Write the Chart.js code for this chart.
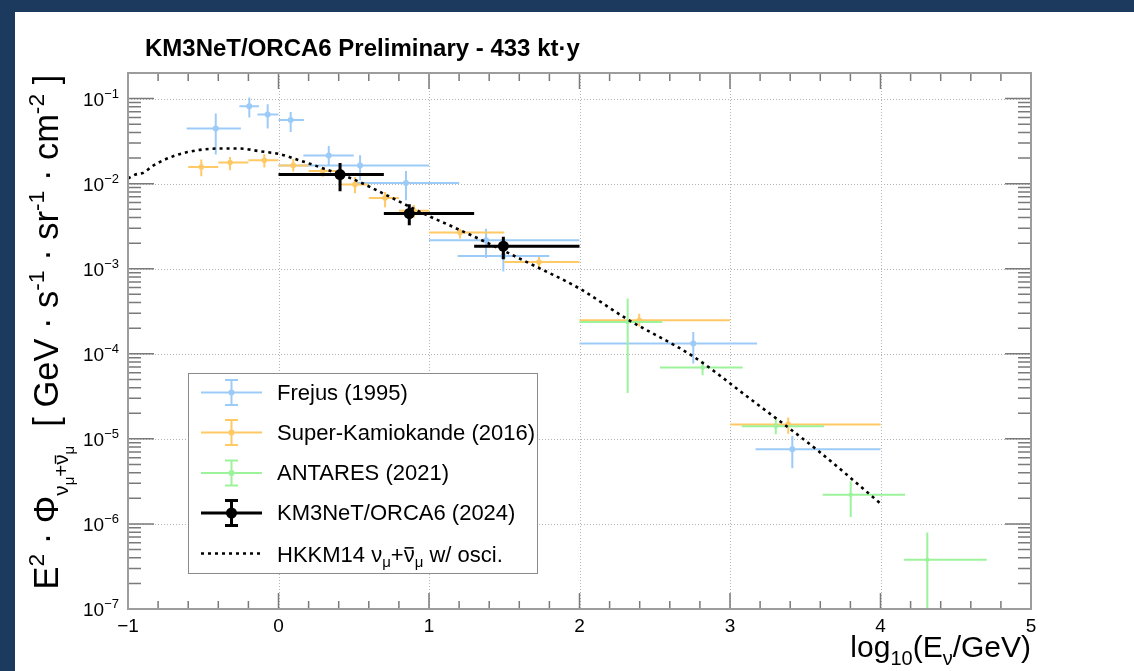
<!DOCTYPE html>
<html><head><meta charset="utf-8">
<script src="https://cdn.jsdelivr.net/npm/chart.js@4/dist/chart.umd.min.js"></script>
<style>
html,body{margin:0;padding:0;background:#1b3a5e;overflow:hidden;width:1134px;height:671px}
#panel{position:absolute;left:15px;top:12px;width:1119px;height:659px;background:#fff}
#wrap{position:absolute;left:0;top:0;width:1134px;height:671px}
</style></head><body>
<div id="panel"></div>
<div id="wrap"><canvas id="c" width="1134" height="671"></canvas></div>
<script>
// ---------- data ----------
const frejusX   = [-0.417, -0.194, -0.072, 0.081, 0.334, 0.542, 0.847, 1.379, 1.494, 2.756, 3.414];
const frejusXlo = [-0.61, -0.26, -0.14, 0.0, 0.165, 0.0, 0.5, 1.0, 1.19, 2.0, 3.17];
const frejusXhi = [-0.25, -0.13, 0.0, 0.17, 0.5, 1.0, 1.2, 2.0, 1.8, 3.18, 4.0];
const frejusY   = [0.0444, 0.0812, 0.0649, 0.0561, 0.0214, 0.0164, 0.0102, 0.00216, 0.00141, 1.32e-4, 7.57e-6];
const frejusYlo = [0.0221, 0.0598, 0.0444, 0.0405, 0.0164, 0.011, 0.0064, 0.00134, 0.00093, 7.7e-5, 4.5e-6];
const frejusYhi = [0.0667, 0.103, 0.0857, 0.0696, 0.0277, 0.0216, 0.0141, 0.00296, 0.00207, 1.81e-4, 1.08e-5];

const skX   = [-0.513, -0.322, -0.094, 0.098, 0.294, 0.508, 0.708, 0.9, 1.206, 1.731, 2.397, 3.387];
const skXlo = [-0.6, -0.4, -0.2, 0.0, 0.2, 0.42, 0.6, 0.8, 1.0, 1.5, 2.0, 3.0];
const skXhi = [-0.4, -0.2, 0.0, 0.2, 0.4, 0.6, 0.8, 1.0, 1.5, 2.0, 3.0, 4.0];
const skY   = [0.0157, 0.0177, 0.0188, 0.0164, 0.0141, 0.0098, 0.0068, 0.0048, 0.00266, 0.0012, 2.48e-4, 1.48e-5];
const skYlo = [0.0122, 0.0144, 0.0155, 0.0139, 0.0121, 0.0077, 0.0053, 0.0040, 0.00226, 0.00103, 2.09e-4, 1.15e-5];
const skYhi = [0.0192, 0.0206, 0.0222, 0.0195, 0.0155, 0.0120, 0.0080, 0.0056, 0.00296, 0.00137, 2.96e-4, 1.78e-5];

const antX   = [2.32, 2.818, 3.304, 3.802, 4.311];
const antXlo = [2.0, 2.535, 3.078, 3.616, 4.156];
const antXhi = [2.55, 3.084, 3.625, 4.163, 4.706];
const antY   = [2.37e-4, 6.9e-5, 1.41e-5, 2.2e-6, 3.79e-7];
const antYlo = [3.47e-5, 5.6e-5, 1.13e-5, 1.21e-6, 5e-8];
const antYhi = [4.47e-4, 8.3e-5, 1.73e-5, 3.18e-6, 7.94e-7];

const kmX   = [0.409, 0.869, 1.494];
const kmXlo = [0.0, 0.7, 1.3];
const kmXhi = [0.7, 1.3, 2.0];
const kmY   = [0.0128, 0.00446, 0.00184];
const kmYlo = [0.00815, 0.00324, 0.00129];
const kmYhi = [0.0175, 0.00573, 0.00237];

const hkkmX = [-1.0, -0.95, -0.9, -0.83, -0.7, -0.54, -0.39, -0.26, -0.12, 0.01, 0.14, 0.28, 0.5, 0.72, 0.94, 1.16, 1.34, 1.67, 2.0, 2.31, 2.76, 3.13, 3.58, 4.0];
const hkkmY = [0.0115, 0.0128, 0.0134, 0.0164, 0.021, 0.0247, 0.0259, 0.0259, 0.024, 0.0222, 0.0188, 0.0155, 0.0112, 0.0073, 0.00466, 0.0031, 0.00221, 0.00115, 5.85e-4, 2.6e-4, 9.2e-5, 2.99e-5, 7.37e-6, 1.74e-6];

const xTickValues = [-1, 0, 1, 2, 3, 4, 5];
const xTickLabels = ['\u22121', '0', '1', '2', '3', '4', '5'];
const yTickExponents = [-7, -6, -5, -4, -3, -2, -1];

const legendLabels = ['Frejus (1995)', 'Super-Kamiokande (2016)', 'ANTARES (2021)', 'KM3NeT/ORCA6 (2024)'];
const titleText = 'KM3NeT/ORCA6 Preliminary - 433 kt\u00B7y';

// ---------- styles ----------
const FONT = '"Liberation Sans", Arial, Helvetica, sans-serif';
const C_FREJUS = '#9dcbf8', C_SK = '#ffc966', C_ANT = '#9cf39c', C_KM = '#000000';

function pts(xs, ys){ return xs.map((v,i)=>({x:v, y:ys[i]})); }

const datasets = [
  {label:legendLabels[3], data:pts(kmX,kmY), borderColor:C_KM, backgroundColor:C_KM, pointRadius:5.5, pointBorderWidth:0,
   err:{x:kmX,xlo:kmXlo,xhi:kmXhi,y:kmY,ylo:kmYlo,yhi:kmYhi}, errWidth:3},
  {label:'HKKM14', type:'line', showLine:true, data:pts(hkkmX,hkkmY), borderColor:'#000', borderWidth:2.6,
   borderDash:[3,4], pointRadius:0, cubicInterpolationMode:'monotone', fill:false},
  {label:legendLabels[2], data:pts(antX,antY), borderColor:C_ANT, backgroundColor:C_ANT, pointRadius:2.2, pointBorderWidth:0,
   err:{x:antX,xlo:antXlo,xhi:antXhi,y:antY,ylo:antYlo,yhi:antYhi}, errWidth:2},
  {label:legendLabels[1], data:pts(skX,skY), borderColor:C_SK, backgroundColor:C_SK, pointRadius:2.8, pointBorderWidth:0,
   err:{x:skX,xlo:skXlo,xhi:skXhi,y:skY,ylo:skYlo,yhi:skYhi}, errWidth:2},
  {label:legendLabels[0], data:pts(frejusX,frejusY), borderColor:C_FREJUS, backgroundColor:C_FREJUS, pointRadius:3, pointBorderWidth:0,
   err:{x:frejusX,xlo:frejusXlo,xhi:frejusXhi,y:frejusY,ylo:frejusYlo,yhi:frejusYhi}, errWidth:2}
];

function clipArea(ctx, a){ ctx.beginPath(); ctx.rect(a.left, a.top, a.right-a.left, a.bottom-a.top); ctx.clip(); }

const errPlugin = {
  id:'errbars',
  beforeDatasetDraw(chart, args){
    const ds = chart.data.datasets[args.index];
    if(!ds.err) return;
    const {ctx, chartArea:a} = chart; const xs = chart.scales.x, ys = chart.scales.y;
    const e = ds.err;
    ctx.save(); clipArea(ctx, a);
    ctx.strokeStyle = ds.borderColor; ctx.lineWidth = ds.errWidth; ctx.lineCap = 'butt';
    ctx.beginPath();
    for(let i=0;i<e.x.length;i++){
      const px = xs.getPixelForValue(e.x[i]), py = ys.getPixelForValue(e.y[i]);
      ctx.moveTo(xs.getPixelForValue(e.xlo[i]), py); ctx.lineTo(xs.getPixelForValue(e.xhi[i]), py);
      ctx.moveTo(px, ys.getPixelForValue(e.ylo[i])); ctx.lineTo(px, ys.getPixelForValue(e.yhi[i]));
    }
    ctx.stroke(); ctx.restore();
  }
};

function drawPieces(ctx, pieces, startX, baseY){
  let x = startX;
  for(const p of pieces){
    ctx.font = (p.bold?'bold ':'') + p.s + 'px ' + FONT;
    const w = ctx.measureText(p.t).width;
    ctx.fillText(p.t, x, baseY + (p.dy||0));
    if(p.bar){
      ctx.save(); ctx.lineWidth = Math.max(1, p.s/14);
      ctx.beginPath();
      const by = baseY + (p.dy||0) - p.s*0.62;
      ctx.moveTo(x+1, by); ctx.lineTo(x+w-1, by); ctx.stroke(); ctx.restore();
    }
    x += w;
  }
  return x;
}
function piecesWidth(ctx, pieces){
  let w=0; for(const p of pieces){ ctx.font=(p.bold?'bold ':'')+p.s+'px '+FONT; w+=ctx.measureText(p.t).width; } return w;
}

const axisPlugin = {
  id:'rootaxes',
  beforeDatasetsDraw(chart){
    const {ctx, chartArea:a} = chart; const xs = chart.scales.x, ys = chart.scales.y;
    ctx.save();
    ctx.strokeStyle = '#b4b4b4'; ctx.lineWidth = 1; ctx.setLineDash([1,2]);
    ctx.beginPath();
    for(const v of xTickValues){
      if(v<=xs.min || v>=xs.max) continue;
      const px = Math.round(xs.getPixelForValue(v))+0.5;
      ctx.moveTo(px, a.top); ctx.lineTo(px, a.bottom);
    }
    for(const e of yTickExponents){
      const v = Math.pow(10,e); if(v<=ys.min || v>=ys.max) continue;
      const py = Math.round(ys.getPixelForValue(v))+0.5;
      ctx.moveTo(a.left, py); ctx.lineTo(a.right, py);
    }
    ctx.stroke(); ctx.restore();
  },
  afterDatasetsDraw(chart){
    const {ctx, chartArea:a} = chart; const xs = chart.scales.x, ys = chart.scales.y;
    ctx.save();
    ctx.strokeStyle = '#7a7a7a'; ctx.lineWidth = 1.5;
    ctx.beginPath();
    // y ticks
    for(let e=-7;e<=-1;e++){
      for(let m=1;m<=9;m++){
        const v = m*Math.pow(10,e); if(v<ys.min || v>ys.max) continue;
        const py = ys.getPixelForValue(v);
        const L = (m===1)?26:13;
        ctx.moveTo(a.left, py); ctx.lineTo(a.left+L, py);
        ctx.moveTo(a.right, py); ctx.lineTo(a.right-L, py);
      }
    }
    // x ticks
    for(let k=0;k<=30;k++){
      const v = -1 + k*0.2; const px = xs.getPixelForValue(v);
      const L = (k%5===0)?16:8;
      ctx.moveTo(px, a.bottom); ctx.lineTo(px, a.bottom-L);
      ctx.moveTo(px, a.top); ctx.lineTo(px, a.top+L);
    }
    ctx.stroke();
    // frame
    ctx.strokeStyle = '#9c9c9c'; ctx.lineWidth = 2;
    ctx.strokeRect(a.left, a.top, a.right-a.left, a.bottom-a.top);
    ctx.restore();
  },
  afterDraw(chart){
    const {ctx, chartArea:a} = chart; const xs = chart.scales.x, ys = chart.scales.y;
    ctx.save();
    ctx.fillStyle = '#000'; ctx.strokeStyle = '#000';
    // x tick labels
    ctx.font = '19px ' + FONT; ctx.textAlign = 'center'; ctx.textBaseline = 'alphabetic';
    xTickValues.forEach((v,i)=>{
      ctx.fillText(xTickLabels[i], xs.getPixelForValue(v), a.bottom + 23);
    });
    // y tick labels
    ctx.textAlign = 'left';
    for(const e of yTickExponents){
      const py = ys.getPixelForValue(Math.pow(10,e));
      const pieces = [{t:'10', s:19}, {t:'\u2212'+(-e), s:13, dy:-8}];
      const w = piecesWidth(ctx, pieces);
      drawPieces(ctx, pieces, a.left - 9 - w, py + 7);
    }
    // title
    ctx.font = 'bold 24px ' + FONT; ctx.textAlign = 'left';
    ctx.fillText(titleText, 145, 56);
    // x axis title
    const xt = [{t:'log',s:30},{t:'10',s:20,dy:8},{t:'(E',s:30},{t:'\u03BD',s:20,dy:8},{t:'/GeV)',s:30}];
    const xtw = piecesWidth(ctx, xt);
    drawPieces(ctx, xt, a.right - xtw, 657);
    // y axis title
    const F = 30, S = 20;
    let yt = [{t:'E',s:F},{t:'2',s:S,dy:-12},{t:' \u00B7 \u03A6',s:F},
      {t:'\u03BD',s:18,dy:9},{t:'\u03BC',s:13,dy:14},{t:'+',s:18,dy:9},{t:'\u03BD',s:18,dy:9,bar:true},{t:'\u03BC',s:13,dy:14},
      {t:'  [ GeV \u00B7 s',s:F},{t:'-1',s:S,dy:-12},{t:' \u00B7 sr',s:F},{t:'-1',s:S,dy:-12},{t:' \u00B7 cm',s:F},{t:'-2',s:S,dy:-12},{t:' ]',s:F}];
    const target = 515;
    const k = target / piecesWidth(ctx, yt);
    yt = yt.map(p=>({...p, s:p.s*k, dy:(p.dy||0)*k}));
    ctx.save();
    ctx.translate(58, 332); ctx.rotate(-Math.PI/2);
    drawPieces(ctx, yt, -target/2, 0);
    ctx.restore();
    // legend
    const lx = 188.5, ly = 373.5, lw = 349, lh = 200;
    ctx.fillStyle = '#fff'; ctx.fillRect(lx, ly, lw, lh);
    ctx.strokeStyle = '#8a8a8a'; ctx.lineWidth = 1; ctx.strokeRect(lx, ly, lw, lh);
    const rows = [392.5, 432.5, 473, 513, 553.5];
    const cols = [C_FREJUS, C_SK, C_ANT, C_KM];
    const sx0 = 201, sx1 = 262, scx = 231.5;
    for(let i=0;i<4;i++){
      const ry = rows[i];
      ctx.strokeStyle = cols[i]; ctx.fillStyle = cols[i]; ctx.lineWidth = i===3?3:2;
      ctx.beginPath();
      ctx.moveTo(sx0, ry); ctx.lineTo(sx1, ry);
      ctx.moveTo(scx, ry-12.5); ctx.lineTo(scx, ry+12.5);
      ctx.moveTo(scx-6.5, ry-12.5); ctx.lineTo(scx+6.5, ry-12.5);
      ctx.moveTo(scx-6.5, ry+12.5); ctx.lineTo(scx+6.5, ry+12.5);
      ctx.stroke();
      ctx.beginPath(); ctx.arc(scx, ry, i===3?5.5:3, 0, Math.PI*2); ctx.fill();
      ctx.fillStyle = '#000'; ctx.font = '22px ' + FONT; ctx.textBaseline = 'middle';
      ctx.fillText(legendLabels[i], 277, ry+1);
    }
    // HKKM legend row
    const ry = rows[4];
    ctx.strokeStyle = '#000'; ctx.lineWidth = 2.6; ctx.setLineDash([3,4]);
    ctx.beginPath(); ctx.moveTo(sx0, ry); ctx.lineTo(sx1, ry); ctx.stroke();
    ctx.setLineDash([]); ctx.lineWidth = 1.4;
    ctx.textBaseline = 'alphabetic'; ctx.fillStyle = '#000';
    drawPieces(ctx, [{t:'HKKM14 \u03BD',s:22},{t:'\u03BC',s:15,dy:5},{t:'+',s:22},{t:'\u03BD',s:22,bar:true},{t:'\u03BC',s:15,dy:5},{t:' w/ osci.',s:22}], 277, ry+8);
    ctx.restore();
  }
};

new Chart(document.getElementById('c'), {
  type:'scatter',
  data:{datasets},
  options:{
    responsive:false, animation:false, devicePixelRatio:1,
    layout:{padding:{left:0, top:73, right:103, bottom:0}},
    plugins:{legend:{display:false}, tooltip:{enabled:false}, title:{display:false}},
    scales:{
      x:{type:'linear', min:-1, max:5, ticks:{display:false, stepSize:1}, grid:{display:false}, border:{display:false},
         afterFit(s){ s.height = 62; }},
      y:{type:'logarithmic', min:1e-7, max:0.2, ticks:{display:false}, grid:{display:false}, border:{display:false},
         afterFit(s){ s.width = 128; }}
    }
  },
  plugins:[errPlugin, axisPlugin]
});
</script>
</body></html>
